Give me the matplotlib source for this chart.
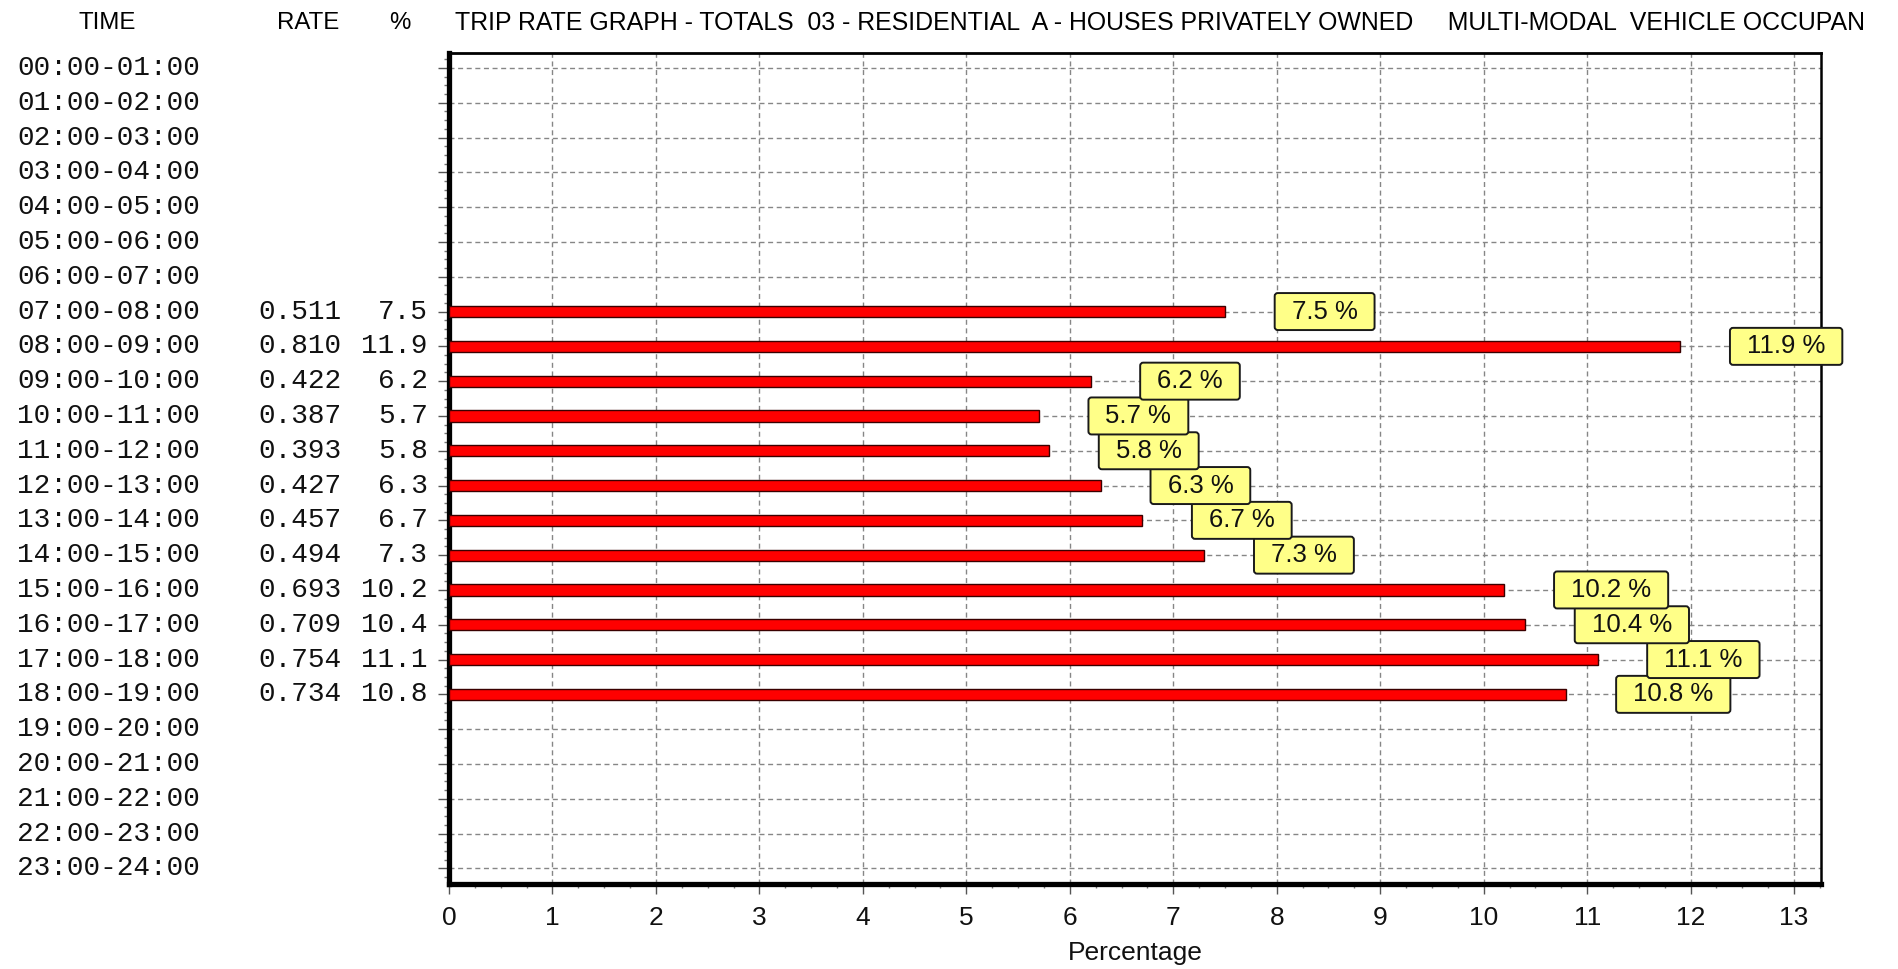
import matplotlib
matplotlib.use("Agg")
import matplotlib.pyplot as plt
from matplotlib import transforms
from matplotlib.patches import BoxStyle
from matplotlib.ticker import MultipleLocator

# ---- data -------------------------------------------------------------
time_labels = [
    "00:00-01:00", "01:00-02:00", "02:00-03:00", "03:00-04:00",
    "04:00-05:00", "05:00-06:00", "06:00-07:00", "07:00-08:00",
    "08:00-09:00", "09:00-10:00", "10:00-11:00", "11:00-12:00",
    "12:00-13:00", "13:00-14:00", "14:00-15:00", "15:00-16:00",
    "16:00-17:00", "17:00-18:00", "18:00-19:00", "19:00-20:00",
    "20:00-21:00", "21:00-22:00", "22:00-23:00", "23:00-24:00",
]
trip_rates = [None] * 7 + [0.511, 0.810, 0.422, 0.387, 0.393, 0.427,
                           0.457, 0.494, 0.693, 0.709, 0.754, 0.734] + [None] * 5
percentages = [None] * 7 + [7.5, 11.9, 6.2, 5.7, 5.8, 6.3,
                            6.7, 7.3, 10.2, 10.4, 11.1, 10.8] + [None] * 5
x_ticks = list(range(14))

title = ("TRIP RATE GRAPH - TOTALS  03 - RESIDENTIAL  A - HOUSES PRIVATELY OWNED"
         "     MULTI-MODAL  VEHICLE OCCUPAN")

# ---- figure layout ----------------------------------------------------
W, H = 1899, 969
fig = plt.figure(figsize=(W / 100, H / 100), dpi=100, facecolor="white")
ax_left, ax_right, ax_top, ax_bottom = 449, 1821, 53, 884
ax = fig.add_axes([ax_left / W, 1 - ax_bottom / H,
                   (ax_right - ax_left) / W, (ax_bottom - ax_top) / H])

SANS = "Liberation Sans"
MONO = "Liberation Mono"


class WideBox:
    """Rounded box with separate horizontal / vertical padding (pixels)."""

    def __init__(self, padx, pady, rounding):
        self.padx, self.pady = padx, pady
        self._round = BoxStyle.Round(pad=0.0, rounding_size=rounding)

    def __call__(self, x0, y0, width, height, mutation_size):
        return self._round(x0 - self.padx, y0 - self.pady,
                           width + 2 * self.padx, height + 2 * self.pady,
                           mutation_size)


# ---- bars ---------------------------------------------------------------
rows = [i for i, p in enumerate(percentages) if p is not None]
vals = [percentages[i] for i in rows]
ax.barh(rows, vals, height=0.32, color="#FF0000", edgecolor="#3a0000",
        linewidth=1.0, zorder=3)

for i in rows:
    p = percentages[i]
    ax.annotate(f"{p:.1f} %", xy=(p, i), xytext=(48, 0),
                textcoords="offset points", ha="left", va="center",
                fontsize=18.5, family=SANS, color="#111111",
                bbox=dict(boxstyle=WideBox(17, 6.5, 0.12), fc="#FFFF88",
                          ec="#1a1a1a", lw=1.4),
                zorder=40 - i, annotation_clip=False)

# ---- axes styling ---------------------------------------------------------
ax.set_xlim(0, 13.26)
ax.set_ylim(23.45, -0.43)
ax.set_xticks(x_ticks)
ax.set_xticklabels([str(t) for t in x_ticks], family=SANS, fontsize=19)
ax.xaxis.set_minor_locator(MultipleLocator(0.25))
ax.set_yticks(range(len(time_labels)))
ax.set_yticklabels([])
ax.yaxis.set_minor_locator(MultipleLocator(0.25))

ax.set_axisbelow(True)
ax.grid(True, which="major", color="#868686", linestyle=(0, (3.6, 2.6)),
        linewidth=1.0)

ax.tick_params(axis="x", which="major", length=7, width=1, color="#555555",
               pad=8.5, labelcolor="#111111")
ax.tick_params(axis="x", which="minor", length=3, width=1, color="#777777")
ax.tick_params(axis="y", which="major", length=8, width=1, color="#555555")
ax.tick_params(axis="y", which="minor", length=3.5, width=1, color="#777777")

for side, lw in (("left", 3.8), ("bottom", 3.8), ("top", 2.0), ("right", 1.8)):
    ax.spines[side].set_linewidth(lw)
    ax.spines[side].set_color("black")

ax.set_xlabel("Percentage", family=SANS, fontsize=19, labelpad=8,
              color="#111111")

# ---- header ---------------------------------------------------------------
hy = 1 - 23 / H
fig.text(107 / W, hy, "TIME", ha="center", va="center", family=SANS, fontsize=17.3)
fig.text(308 / W, hy, "RATE", ha="center", va="center", family=SANS, fontsize=17.3)
fig.text(400 / W, hy, "%", ha="center", va="center", family=SANS, fontsize=17.3)
fig.text(455 / W, hy, title, ha="left", va="center", family=SANS, fontsize=17.9)

# ---- table of time bands, rates and percentages -------------------------
row_tf = transforms.blended_transform_factory(fig.transFigure, ax.transData)
for i, lab in enumerate(time_labels):
    fig.text(17 / W, i, lab, transform=row_tf, ha="left", va="center",
             family=MONO, fontsize=20, color="#111111")
    if trip_rates[i] is not None:
        fig.text(342 / W, i, f"{trip_rates[i]:.3f}", transform=row_tf,
                 ha="right", va="center", family=MONO, fontsize=20,
                 color="#111111")
        fig.text(428 / W, i, f"{percentages[i]:.1f}", transform=row_tf,
                 ha="right", va="center", family=MONO, fontsize=20,
                 color="#111111")

fig.savefig("out.png", dpi=100, facecolor="white")
